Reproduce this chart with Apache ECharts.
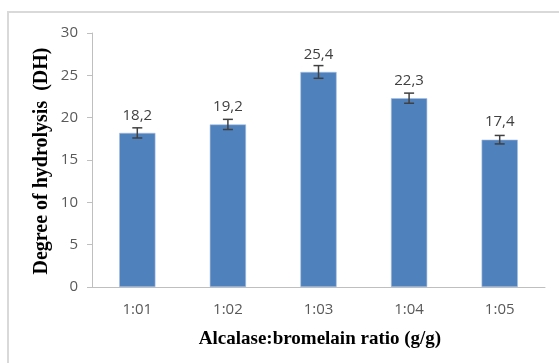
<!DOCTYPE html>
<html><head><meta charset="utf-8">
<script src="https://cdn.jsdelivr.net/npm/echarts@6/dist/echarts.min.js"></script>
<style>html,body{margin:0;padding:0;background:#fff}#c{width:559px;height:363px}</style>
</head><body><div id="c"></div>
<script>
const categories = ['1:01', '1:02', '1:03', '1:04', '1:05'];
const values = [18.2, 19.2, 25.4, 22.3, 17.4];
const errors = [0.6, 0.6, 0.75, 0.6, 0.5];
const yTicks = [0, 5, 10, 15, 20, 25, 30];
const xTitle = 'Alcalase:bromelain ratio (g/g)';
const yTitle = 'Degree of hydrolysis  (DH)';

const chart = echarts.init(document.getElementById('c'), null, {renderer: 'canvas'});
const errData = values.map((v, i) => [i, v - errors[i], v + errors[i]]);
chart.setOption({
  animation: false,
  grid: {left: 92, right: 14, top: 33, bottom: 76},
  graphic: [
    {type: 'rect', shape: {x: 8, y: 12, width: 700, height: 500}, style: {fill: 'none', stroke: '#D9D9D9', lineWidth: 2}, z: -10},
    {type: 'text', style: {text: xTitle, font: 'bold 19px "Liberation Serif"', fill: '#000', textAlign: 'center', textVerticalAlign: 'middle'}, x: 320, y: 339},
    {type: 'text', style: {text: yTitle, font: 'bold 20px "Liberation Serif"', fill: '#000', textAlign: 'center', textVerticalAlign: 'middle'}, x: 42, y: 161, rotation: Math.PI / 2}
  ],
  xAxis: {
    type: 'category', data: categories,
    axisLine: {lineStyle: {color: '#BFBFBF', width: 1}},
    axisTick: {show: false},
    axisLabel: {color: '#595959', fontSize: 15, fontFamily: 'Open Sans', margin: 15}
  },
  yAxis: {
    type: 'value', min: 0, max: 30, interval: 5,
    axisLine: {show: true, lineStyle: {color: '#BFBFBF'}},
    axisTick: {show: true, length: 5, lineStyle: {color: '#BFBFBF'}},
    splitLine: {show: false},
    axisLabel: {color: '#595959', fontSize: 15, fontFamily: 'Open Sans', margin: 14,
      formatter: v => yTicks.includes(v) ? String(v) : ''}
  },
  series: [
    {
      type: 'bar', data: values, barWidth: '40%',
      itemStyle: {color: '#4F81BD', borderColor: '#A9C0E0', borderWidth: 0.6},
      label: {show: true, position: 'top', distance: 10, color: '#404040', fontSize: 15, fontFamily: 'Open Sans',
        formatter: p => String(p.value).replace('.', ',')}
    },
    {
      type: 'custom', data: errData, z: 10,
      renderItem: (params, api) => {
        const x = api.coord([api.value(0), 0])[0];
        const lo = api.coord([api.value(0), api.value(1)])[1];
        const hi = api.coord([api.value(0), api.value(2)])[1];
        const w = 5;
        const st = {stroke: '#404040', lineWidth: 1.5};
        return {type: 'group', children: [
          {type: 'line', shape: {x1: x, y1: lo, x2: x, y2: hi}, style: st},
          {type: 'line', shape: {x1: x - w, y1: lo, x2: x + w, y2: lo}, style: st},
          {type: 'line', shape: {x1: x - w, y1: hi, x2: x + w, y2: hi}, style: st}
        ]};
      }
    }
  ]
});
</script></body></html>
